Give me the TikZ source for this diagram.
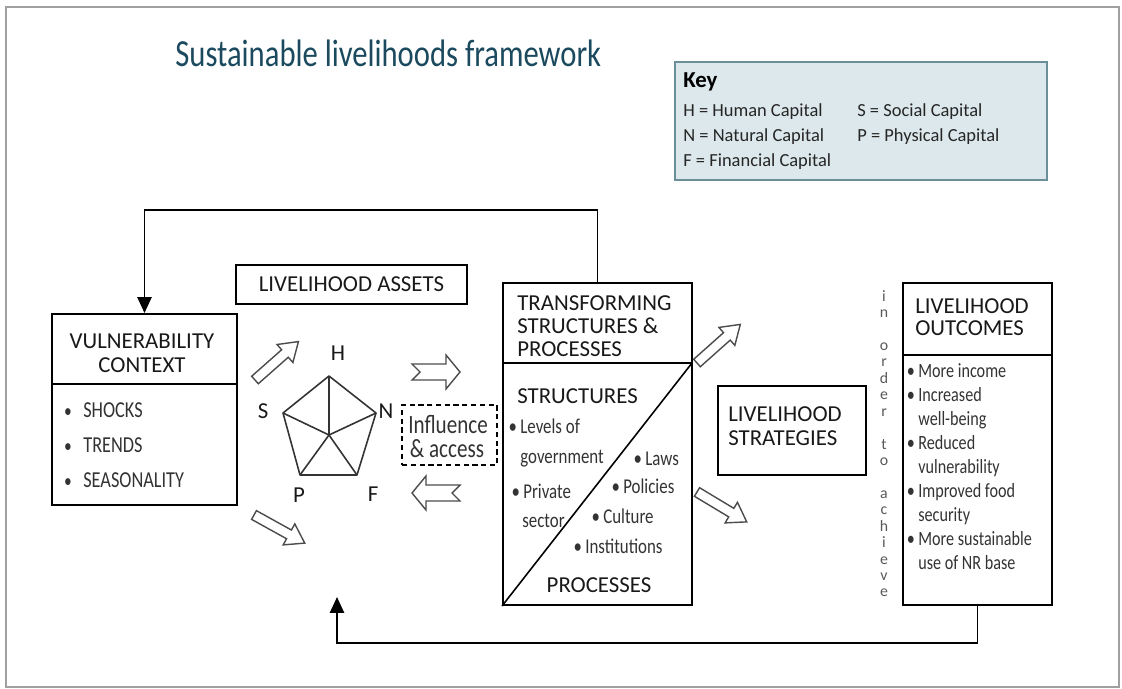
\documentclass[tikz,border=0pt]{standalone}
\usepackage{fontspec}
\setmainfont{Carlito}
\newfontfamily\condfont[FakeStretch=0.8]{Carlito}
\usepackage{xcolor}
\usetikzlibrary{calc, positioning, arrows.meta}

\definecolor{titleteal}{HTML}{1B4A5E}
\definecolor{keyfill}{HTML}{DCE8EB}
\definecolor{keyedge}{HTML}{6A8F98}
\definecolor{framegray}{HTML}{A0A0A0}

\begin{document}
\begin{tikzpicture}[x=0.02cm, y=-0.02cm,
    box/.style={draw, line width=1.1pt, inner sep=0pt},
    boxhead/.style={font=\fontsize{13}{13}\selectfont, text=black!90, inner sep=0pt},
    listitem/.style={font=\condfont\fontsize{12}{12}\selectfont, text=black!80, inner sep=0pt},
    keytext/.style={font=\fontsize{10.5}{10.5}\selectfont, text=black!85, inner sep=0pt, anchor=base west},
    caplabel/.style={font=\fontsize{13}{13}\selectfont, text=black!90, inner sep=0pt, anchor=base},
    feed/.style={line width=1.1pt, -{Triangle[width=8pt,length=9pt]}},
    hollow/.style={draw=black!70, line width=0.8pt, fill=white, line join=miter},
    pics/slant arrow/.style={code={\draw[hollow] (0,-5) -- (40,-5) -- (40,-12) -- (58,0) -- (40,12) -- (40,5) -- (0,5) -- cycle;}},
    pics/notch arrow/.style={code={\draw[hollow] (0,-8) -- (34,-8) -- (34,-17) -- (48,0) -- (34,17) -- (34,8) -- (0,8) -- (8,0) -- cycle;}}]
    \useasboundingbox (0,0) rectangle (1122,689);
    \draw[framegray, line width=1.1pt] (6,7) rectangle (1119,687);

    % title and key
    \node[anchor=base west, inner sep=0pt, text=titleteal, font=\condfont\fontsize{21.8}{21.8}\selectfont] (title) at (175,67) {Sustainable livelihoods framework};
    \node[draw=keyedge, fill=keyfill, line width=1.1pt, minimum width=7.44cm, minimum height=2.36cm] (key) at (861,121) {};
    \node[anchor=base west, inner sep=0pt, font=\bfseries\fontsize{13}{13}\selectfont] (keyttl) at (683,88) {Key};
    \foreach \x/\y/\t [count=\i] in {683/117/H = Human Capital, 683/142/N = Natural Capital, 683/167/F = Financial Capital, 857/117/S = Social Capital, 857/142/P = Physical Capital} {
        \node[keytext] (key\i) at (\x,\y) {\t};
    }

    % vulnerability context
    \node[box, minimum width=3.7cm, minimum height=3.82cm] (vul) at (144.5,409.5) {};
    \draw[line width=1.1pt] (52,384) -- (237,384);
    \node[boxhead, font=\fontsize{13}{14.2}\selectfont, align=center, anchor=north] (vulttl) at (142,333) {VULNERABILITY\\CONTEXT};
    \foreach \y/\t [count=\i] in {417/SHOCKS, 452/TRENDS, 487/SEASONALITY} {
        \node[listitem, font=\condfont\fontsize{11}{11}\selectfont, anchor=base] (vulb\i) at (68,\y) {\textbullet};
        \node[listitem, font=\condfont\fontsize{13}{13}\selectfont, anchor=base west] (vul\i) at (83,\y) {\t};
    }

    % livelihood assets
    \node[box, boxhead, minimum width=4.62cm, minimum height=0.78cm] (assets) at (351.5,284.5) {LIVELIHOOD ASSETS};
    \coordinate (H) at (329,376);
    \coordinate (N) at (376,413);
    \coordinate (F) at (357,475);
    \coordinate (P) at (300,475);
    \coordinate (S) at (283,413);
    \coordinate (C) at (329,435);
    \draw[line width=0.9pt, black!80, line join=round] (H) -- (N) -- (F) -- (P) -- (S) -- cycle;
    \foreach \v in {H,N,F,P,S} {
        \draw[line width=0.9pt, black!80] (C) -- (\v);
    }
    \foreach \v/\x/\y in {H/338/360, S/263/418, N/386/418, P/299/502, F/373/501} {
        \node[caplabel] (lbl\v) at (\x,\y) {\v};
    }
    \node[draw, dash pattern=on 3pt off 2pt, line width=0.9pt, minimum width=1.9cm, minimum height=1.2cm] (infl) at (449.5,435) {};
    \node[listitem, font=\condfont\fontsize{15}{15}\selectfont, anchor=base] (infl1) at (448,433) {Influence};
    \node[listitem, font=\condfont\fontsize{15}{15}\selectfont, anchor=base] (infl2) at (447,457) {\& access};

    % transforming structures and processes
    \node[box, minimum width=3.78cm, minimum height=6.44cm] (tsp) at (597.5,444) {};
    \draw[line width=1.1pt] (503,363) -- (692,363);
    \draw[line width=0.9pt] (tsp.south west) -- (692,363);
    \foreach \y/\t [count=\i] in {310/TRANSFORMING, 333/STRUCTURES \&, 356/PROCESSES} {
        \node[boxhead, anchor=base west] (tsph\i) at (517,\y) {\t};
    }
    \node[boxhead, anchor=base west] (struct) at (517,403) {STRUCTURES};
    \node[boxhead, anchor=base] (proc) at (599,592) {PROCESSES};
    \foreach \b/\x/\y/\t [count=\i] in {1/520/433/Levels of, 0/520/463/government, 1/523/498/Private, 0/522/527/sector, 1/645/465/Laws, 1/623/493/Policies, 1/603/523/Culture, 1/585/553/Institutions} {
        \node[listitem, anchor=base west] (ts\i) at (\x,\y) {\t};
        \ifnum\b=1 \node[listitem, anchor=base east] (tsb\i) at ([xshift=-1.5pt]ts\i.base west) {\textbullet}; \fi
    }

    % strategies and outcomes
    \node[box, minimum width=2.96cm, minimum height=1.78cm] (strat) at (792,430.5) {};
    \node[boxhead, font=\fontsize{13}{14}\selectfont, align=left, anchor=north west] (stratttl) at (728,406) {LIVELIHOOD\\STRATEGIES};
    \node[font=\fontsize{9}{9.35}\selectfont, text=black!65, align=center, anchor=north, inner sep=0pt] (achieve) at (884,290) {i\\n\\\mbox{}\\o\\r\\d\\e\\r\\\mbox{}\\t\\o\\\mbox{}\\a\\c\\h\\i\\e\\v\\e};
    \node[box, minimum width=2.98cm, minimum height=6.44cm] (out) at (977.5,444) {};
    \draw[line width=1.1pt] (903,355) -- (1052,355);
    \node[boxhead, font=\fontsize{13}{12.5}\selectfont, align=left, anchor=north west] (outttl) at (915,298) {LIVELIHOOD\\OUTCOMES};
    \foreach \b/\t [count=\i from 0] in {1/More income, 1/Increased, 0/well-being, 1/Reduced, 0/vulnerability, 1/Improved food, 0/security, 1/More sustainable, 0/use of NR base} {
        \node[listitem, font=\condfont\fontsize{11.5}{11.5}\selectfont, anchor=base west] (oc\i) at (918,377+24.1*\i) {\t};
        \ifnum\b=1 \node[listitem, font=\condfont\fontsize{11.5}{11.5}\selectfont, anchor=base east] (ocb\i) at ([xshift=-1.5pt]oc\i.base west) {\textbullet}; \fi
    }

    % hollow arrows
    \pic[rotate=41.5] at (255,380) {slant arrow};
    \pic[rotate=-29] at (254,515) {slant arrow};
    \pic at (412,372) {notch arrow};
    \pic[rotate=180] at (460,493) {notch arrow};
    \pic[rotate=41.7] at (697,363) {slant arrow};
    \pic[rotate=-31] at (697,492) {slant arrow};

    % feedback lines
    \coordinate (fbend) at (337,597);
    \draw[feed] (tsp.north) -- ++(0,-72) -| (vul.north);
    \draw[feed] (out.south) -- ++(0,37) -| (fbend);
\end{tikzpicture}
\end{document}
